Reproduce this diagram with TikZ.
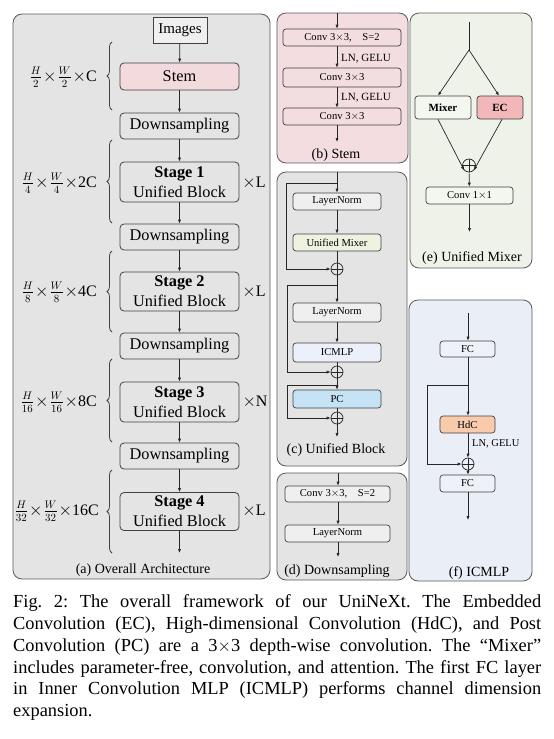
\documentclass[tikz,border=0pt]{standalone}
\usepackage{fontspec}
\setmainfont{Liberation Serif}
\usetikzlibrary{arrows.meta,decorations.pathreplacing,calc}
\definecolor{pgray}{HTML}{E4E4E4}
\definecolor{ppink}{HTML}{F3DDE0}
\definecolor{stempink}{HTML}{F2DADD}
\definecolor{pgreen}{HTML}{EEF2E8}
\definecolor{mixfill}{HTML}{F4F7EF}
\definecolor{ecfill}{HTML}{F2B7B8}
\definecolor{pblue}{HTML}{EAEEF6}
\definecolor{fcfill}{HTML}{EEF1F8}
\definecolor{hdcfill}{HTML}{F8CBAD}
\definecolor{pcfill}{HTML}{C5E3F5}
\definecolor{icfill}{HTML}{EBF0FA}
\definecolor{umfill}{HTML}{EDF2E1}
\definecolor{edge}{HTML}{404040}
\definecolor{pedge}{HTML}{5A5A5A}
\tikzset{
  x=1pt,y=-1pt,
  panel/.style={draw=pedge,line width=0.8pt,rounded corners=9pt},
  bigbox/.style={draw=edge,line width=0.8pt,rounded corners=4pt,minimum width=119pt,inner sep=0pt,font=\fontsize{16.3}{20}\selectfont,align=center},
  smallbox/.style={draw=edge,line width=0.7pt,rounded corners=3pt,inner sep=0pt,font=\fontsize{10.6}{12}\selectfont,minimum height=18pt},
  arr/.style={draw=black!85,line width=0.7pt,-{Latex[length=4pt,width=3.2pt]}},
  ln/.style={draw=black!85,line width=0.7pt},
  plus/.style={draw=black!85,line width=0.7pt,circle,minimum size=12pt,inner sep=0pt,
    path picture={\draw[black!85,line width=0.6pt] (path picture bounding box.north) -- (path picture bounding box.south) (path picture bounding box.west) -- (path picture bounding box.east);}},
  pcap/.style={font=\fontsize{14}{16}\selectfont,inner sep=0pt},
  dimlab/.style={font=\fontsize{16}{18}\selectfont,anchor=east,inner sep=0pt},
  brc/.style={decorate,decoration={brace,amplitude=5pt},draw=edge,line width=0.8pt},
  actlab/.style={font=\fontsize{11}{12}\selectfont,anchor=west,inner sep=0pt}
}
\begin{document}
\begin{tikzpicture}
\useasboundingbox (0,0) rectangle (554,739);
\fill[white] (0,0) rectangle (554,739);
% ---------------- panel (a)
\draw[panel,fill=pgray] (13,14) rectangle (270,579);
\node[draw=edge,line width=0.8pt,fill=pgray!60!white,minimum width=54pt,minimum height=26pt,inner sep=0pt,font=\fontsize{15}{17}\selectfont] (img) at (180,30) {Images};
\node[bigbox,fill=stempink,minimum height=27pt] (stem) at (179.5,76.5) {Stem};
\node[bigbox,fill=pgray,minimum height=26pt] (ds1) at (179.5,126) {Downsampling};
\node[bigbox,fill=pgray,minimum height=40pt] (st1) at (179.5,182) {\textbf{Stage 1}\\Unified Block};
\node[bigbox,fill=pgray,minimum height=26pt] (ds2) at (179.5,237) {Downsampling};
\node[bigbox,fill=pgray,minimum height=39pt] (st2) at (179.5,291.5) {\textbf{Stage 2}\\Unified Block};
\node[bigbox,fill=pgray,minimum height=26pt] (ds3) at (179.5,346) {Downsampling};
\node[bigbox,fill=pgray,minimum height=40pt] (st3) at (179.5,402) {\textbf{Stage 3}\\Unified Block};
\node[bigbox,fill=pgray,minimum height=26pt] (ds4) at (179.5,456) {Downsampling};
\node[bigbox,fill=pgray,minimum height=38pt] (st4) at (179.5,511.5) {\textbf{Stage 4}\\Unified Block};
\coordinate (aout) at (179.5,553);
\draw[arr] (img) -- (stem);
\draw[arr] (stem) -- (ds1);
\draw[arr] (ds1) -- (st1);
\draw[arr] (st1) -- (ds2);
\draw[arr] (ds2) -- (st2);
\draw[arr] (st2) -- (ds3);
\draw[arr] (ds3) -- (st3);
\draw[arr] (st3) -- (ds4);
\draw[arr] (ds4) -- (st4);
\draw[arr] (st4) -- (aout);
\node[font=\fontsize{16}{18}\selectfont,inner sep=0pt] (m1) at (254,183) {$\times$L};
\node[font=\fontsize{16}{18}\selectfont,inner sep=0pt] (m2) at (254,292) {$\times$L};
\node[font=\fontsize{16}{18}\selectfont,inner sep=0pt] (m3) at (255,402) {$\times$N};
\node[font=\fontsize{16}{18}\selectfont,inner sep=0pt] (m4) at (254,511) {$\times$L};
\draw[brc] (112,110) -- (112,42);
\draw[brc] (112,223) -- (112,140);
\draw[brc] (112,332) -- (112,251);
\draw[brc] (112,442) -- (112,359);
\draw[brc] (112,553) -- (112,470);
\node[dimlab] (d1) at (97,77) {$\frac{H}{2}\mkern1mu{\times}\mkern1mu\frac{W}{2}\mkern1mu{\times}$C};
\node[dimlab] (d2) at (97,183) {$\frac{H}{4}\mkern1mu{\times}\mkern1mu\frac{W}{4}\mkern1mu{\times}$2C};
\node[dimlab] (d3) at (97,292) {$\frac{H}{8}\mkern1mu{\times}\mkern1mu\frac{W}{8}\mkern1mu{\times}$4C};
\node[dimlab] (d4) at (97,402) {$\frac{H}{16}\mkern1mu{\times}\mkern1mu\frac{W}{16}\mkern1mu{\times}$8C};
\node[dimlab] (d5) at (99,511) {$\frac{H}{32}\mkern1mu{\times}\mkern1mu\frac{W}{32}\mkern1mu{\times}$16C};
\node[pcap] (capa) at (143,570) {(a) Overall Architecture};
% ---------------- panel (b)
\draw[panel,fill=ppink] (277,13) rectangle (408,163);
\coordinate (bin) at (337,13);
\node[smallbox,fill=ppink,minimum width=118pt,minimum height=17pt] (b1) at (342,37.5) {Conv 3$\times$3,\quad S=2\hspace{10pt}};
\node[smallbox,fill=ppink,minimum width=118pt,minimum height=19pt] (b2) at (342,77.5) {Conv 3$\times$3\hspace{10pt}};
\node[smallbox,fill=ppink,minimum width=118pt,minimum height=17pt] (b3) at (342,116.5) {Conv 3$\times$3\hspace{10pt}};
\coordinate (bout) at (337,142);
\draw[arr] (bin) -- (bin |- b1.north);
\draw[arr] (b1.south -| bin) -- (b2.north -| bin);
\draw[arr] (b2.south -| bin) -- (b3.north -| bin);
\draw[arr] (b3.south -| bin) -- (bout);
\node[actlab] (bl1) at (341,59) {LN, GELU};
\node[actlab] (bl2) at (341,98) {LN, GELU};
\node[pcap] (capb) at (336,155) {(b) Stem};
% ---------------- panel (c)
\draw[panel,fill=pgray] (277,172) rectangle (407,466);
\coordinate (cin) at (337,172);
\node[smallbox,fill=pgray!60!white,minimum width=88pt,minimum height=17pt] (ln1) at (337,201.5) {LayerNorm};
\node[smallbox,fill=umfill,minimum width=88pt,minimum height=17pt] (um) at (337,242.5) {Unified Mixer};
\node[plus] (p1) at (337,269) {};
\node[smallbox,fill=pgray!60!white,minimum width=88pt,minimum height=19pt] (ln2) at (337,312.5) {LayerNorm};
\node[smallbox,fill=icfill,minimum width=88pt,minimum height=19pt] (icm) at (337,352.5) {ICMLP};
\node[plus] (p2) at (337,372) {};
\node[smallbox,fill=pcfill,minimum width=88pt,minimum height=18pt] (pc) at (337,399) {PC};
\node[plus] (p3) at (337,418) {};
\coordinate (cout) at (337,437);
\coordinate (cs1) at (337,183);
\coordinate (cs2) at (337,285);
\coordinate (cs3) at (337,385);
\draw[arr] (cin) -- (ln1);
\draw[arr] (ln1) -- (um);
\draw[ln] (um) -- (p1);
\draw[arr] (p1) -- (ln2);
\draw[arr] (ln2) -- (icm);
\draw[ln] (icm) -- (p2);
\draw[arr] (p2) -- (pc);
\draw[ln] (pc) -- (p3);
\draw[arr] (p3) -- (cout);
\draw[arr] (cs1) -- (286,183) -- (286,269) -- (p1.west);
\draw[arr] (cs2) -- (287,285) -- (287,372) -- (p2.west);
\draw[arr] (cs3) -- (287,385) -- (287,418) -- (p3.west);
\node[pcap] (capc) at (336,450) {(c) Unified Block};
% ---------------- panel (d)
\draw[panel,fill=pgray] (277,473) rectangle (407,580);
\coordinate (din) at (338,473);
\node[smallbox,fill=pgray!60!white,minimum width=105pt,minimum height=16pt] (dc) at (337.5,494) {Conv 3$\times$3,\quad S=2};
\node[smallbox,fill=pgray!60!white,minimum width=105pt,minimum height=17pt] (dl) at (337.5,533.5) {LayerNorm};
\coordinate (dout) at (338,557);
\draw[arr] (din) -- (din |- dc.north);
\draw[arr] (dc.south -| din) -- (dl.north -| din);
\draw[arr] (dl.south -| din) -- (dout);
\node[pcap] (capd) at (337,571) {(d) Downsampling};
% ---------------- panel (e)
\draw[panel,fill=pgreen] (410,13) rectangle (532,268);
\coordinate (ein) at (469,22);
\coordinate (esp) at (469,50);
\node[smallbox,fill=mixfill,minimum width=56pt,minimum height=23pt,font=\fontsize{11}{12}\selectfont\bfseries] (mix) at (443,107.5) {Mixer};
\node[smallbox,fill=ecfill,minimum width=46pt,minimum height=23pt,font=\fontsize{11}{12}\selectfont\bfseries] (ec) at (500,107.5) {EC};
\node[plus,minimum size=13pt] (pe) at (469,165.5) {};
\node[smallbox,fill=mixfill,minimum width=87pt,minimum height=17pt] (c11) at (469.5,195.5) {Conv 1$\times$1};
\coordinate (eout) at (469.5,232);
\draw[ln] (ein) -- (esp);
\draw[arr] (esp) -- ($(mix.north)+(-5,0)$);
\draw[arr] (esp) -- ($(ec.north)+(-1,0)$);
\draw[arr] ($(mix.south)+(-5,0)$) -- (pe.south west);
\draw[arr] ($(ec.south)+(2,0)$) -- (pe.south east);
\draw[arr] (pe) -- (c11);
\draw[arr] (c11) -- (eout);
\node[pcap] (cape) at (472,258) {(e) Unified Mixer};
% ---------------- panel (f)
\draw[panel,fill=pblue] (409,300) rectangle (532,581);
\coordinate (fin) at (468,313);
\node[smallbox,fill=fcfill,minimum width=55pt,minimum height=16pt] (fc1) at (467.5,349) {FC};
\node[smallbox,fill=hdcfill,minimum width=55pt,minimum height=17pt] (hdc) at (467.5,424.5) {HdC};
\node[plus] (pf) at (468,464) {};
\node[smallbox,fill=fcfill,minimum width=55pt,minimum height=17pt] (fc2) at (467.5,483.5) {FC};
\coordinate (fout) at (468,520);
\coordinate (fs) at (468,385);
\draw[arr] (fin) -- (fin |- fc1.north);
\draw[arr] (fc1.south -| fin) -- (hdc.north -| fin);
\draw[arr] (hdc.south -| fin) -- (pf);
\draw[arr] (pf) -- (fc2.north -| fin);
\draw[arr] (fc2.south -| fin) -- (fout);
\draw[arr] (fs) -- (427,385) -- (427,464) -- (pf.west);
\node[actlab,font=\fontsize{10.5}{12}\selectfont] (fl) at (472,444) {LN, GELU};
\node[pcap] (capf) at (479,573) {(f) ICMLP};
% ---------------- caption
\node[anchor=north west,inner sep=0pt,text width=528pt,align=justify,font=\fontsize{18.4}{21.8}\selectfont\frenchspacing] (cap) at (13,594.5) {Fig.~2: The overall framework of our UniNeXt. The Embedded\linebreak Convolution (EC), High-dimensional Convolution (HdC), and Post\linebreak Convolution (PC) are a 3$\times$3 depth-wise convolution. The ``Mixer''\linebreak includes parameter-free, convolution, and attention. The first FC layer\linebreak in Inner Convolution MLP (ICMLP) performs channel dimension\linebreak expansion.};
\end{tikzpicture}
\end{document}
